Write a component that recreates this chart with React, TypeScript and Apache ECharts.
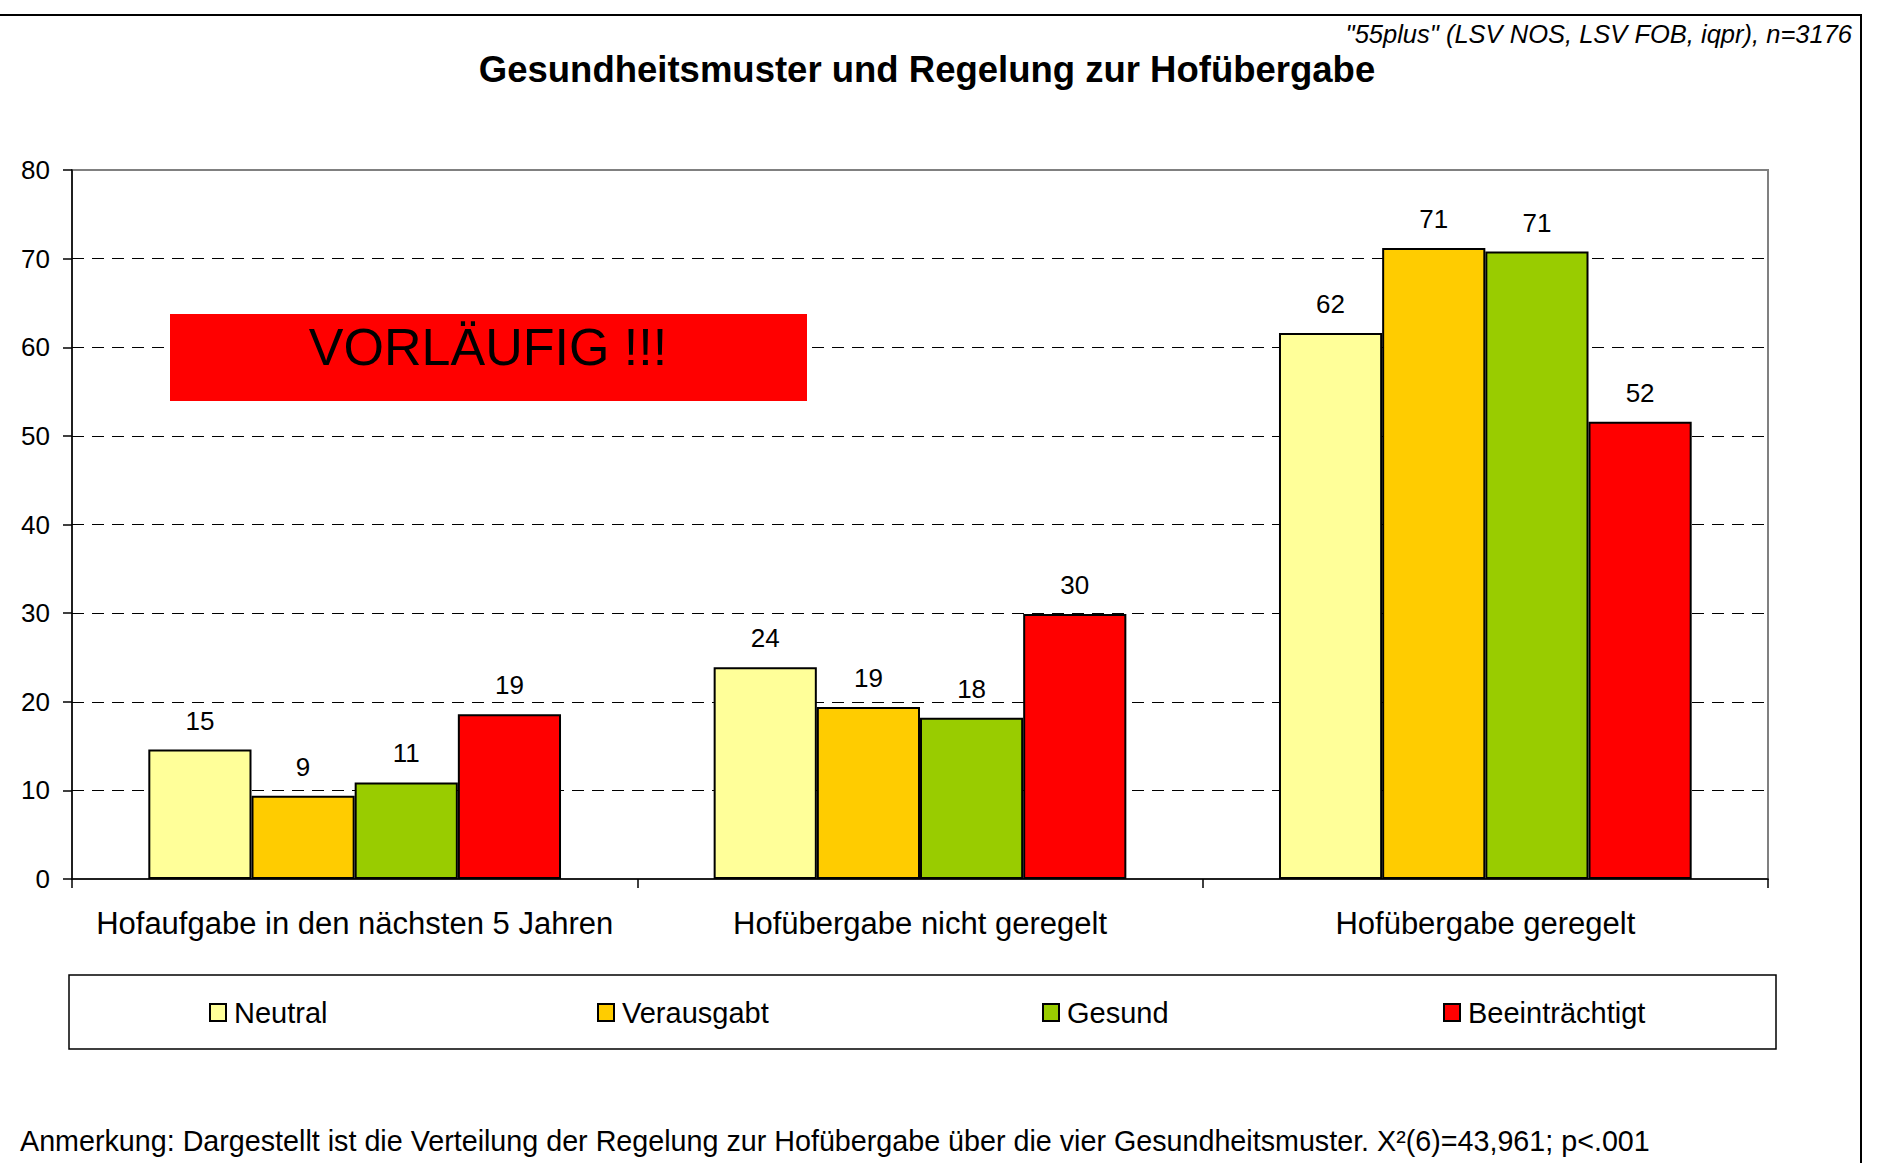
import React, { useEffect, useRef } from "react";
import * as echarts from "echarts";

const categories = [
  "Hofaufgabe in den nächsten 5 Jahren",
  "Hofübergabe nicht geregelt",
  "Hofübergabe geregelt",
];
const seriesNames = ["Neutral", "Verausgabt", "Gesund", "Beeinträchtigt"];
const neutral = [14.6, 23.9, 61.6];
const verausgabt = [9.4, 19.4, 71.2];
const gesund = [10.9, 18.2, 70.8];
const beeintraechtigt = [18.6, 29.9, 51.6];
const seriesColors = ["#FFFF99", "#FFCC00", "#99CC00", "#FF0000"];
const legendLefts = [209, 597, 1042, 1443];

const titleText = "Gesundheitsmuster und Regelung zur Hofübergabe";
const sourceText = '"55plus" (LSV NOS, LSV FOB, iqpr), n=3176';
const noteText =
  "Anmerkung: Dargestellt ist die Verteilung der Regelung zur Hofübergabe über die vier Gesundheitsmuster. X²(6)=43,961; p<.001";
const stampText = "VORLÄUFIG !!!";

const FONT = "'Liberation Sans', Arial, Helvetica, sans-serif";

export default function App() {
  const ref = useRef<HTMLDivElement>(null);
  useEffect(() => {
    if (!ref.current) return;
    const chart = echarts.init(ref.current, undefined, { renderer: "svg" });
    const values = [neutral, verausgabt, gesund, beeintraechtigt];
    const option: any = {
      animation: false,
      backgroundColor: "#ffffff",
      textStyle: { fontFamily: FONT },
      grid: {
        left: 72,
        top: 170,
        width: 1696,
        height: 709,
        show: true,
        borderColor: "#808080",
        borderWidth: 2,
        backgroundColor: "transparent",
      },
      xAxis: {
        type: "category",
        data: categories,
        axisLine: { lineStyle: { color: "#000", width: 1.5 } },
        axisTick: { show: true, length: 9, lineStyle: { color: "#000", width: 1.5 } },
        axisLabel: { color: "#000", fontSize: 31, margin: 29, fontFamily: FONT, interval: 0 },
      },
      yAxis: {
        type: "value",
        min: 0,
        max: 80,
        interval: 10,
        axisLine: { show: true, lineStyle: { color: "#000", width: 1.5 } },
        axisTick: { show: true, length: 9, lineStyle: { color: "#000", width: 1.5 } },
        axisLabel: { color: "#000", fontSize: 26, margin: 22, fontFamily: FONT },
        splitLine: {
          show: true,
          showMinLine: false,
          showMaxLine: false,
          lineStyle: { color: "#000", width: 1, type: [12, 8] },
        },
      },
      legend: seriesNames.map((n, i) => ({
        data: [n],
        left: legendLefts[i],
        top: 998,
        padding: 0,
        itemWidth: 16,
        itemHeight: 17,
        itemGap: 0,
        textStyle: { fontSize: 29, color: "#000", fontFamily: FONT, padding: [0, 0, 0, 3] },
        icon: "rect",
      })),
      series: seriesNames.map((n, i) => ({
        name: n,
        type: "bar",
        data: values[i],
        barGap: "0%",
        barCategoryGap: "27%",
        itemStyle: { color: seriesColors[i], borderColor: "#000", borderWidth: 2 },
        label: {
          show: true,
          position: "top",
          distance: 16,
          color: "#000",
          fontSize: 26,
          fontFamily: FONT,
          formatter: (p: any) => String(Math.round(p.value)),
        },
      })),
      graphic: [
        {
          type: "polyline",
          shape: { points: [[0, 15], [1861, 15], [1861, 1163]] },
          style: { stroke: "#000", lineWidth: 2, fill: "none" },
          silent: true,
        },
        {
          type: "text",
          x: 1852,
          y: 34,
          style: {
            text: sourceText,
            textAlign: "right",
            textVerticalAlign: "middle",
            font: `italic 25.5px ${FONT}`,
            fill: "#000",
          },
        },
        {
          type: "text",
          x: 927,
          y: 69,
          style: {
            text: titleText,
            textAlign: "center",
            textVerticalAlign: "middle",
            font: `bold 36.5px ${FONT}`,
            fill: "#000",
          },
        },
        {
          type: "rect",
          shape: { x: 170, y: 314, width: 637, height: 87 },
          style: { fill: "#FF0000" },
          z: 10,
        },
        {
          type: "text",
          x: 488,
          y: 347,
          z: 11,
          style: {
            text: stampText,
            textAlign: "center",
            textVerticalAlign: "middle",
            font: `52px ${FONT}`,
            fill: "#000",
          },
        },
        {
          type: "rect",
          shape: { x: 69, y: 975, width: 1707, height: 74 },
          style: { fill: "none", stroke: "#000", lineWidth: 1.5 },
          silent: true,
        },
        {
          type: "text",
          x: 20,
          y: 1141,
          style: {
            text: noteText,
            textAlign: "left",
            textVerticalAlign: "middle",
            font: `28.7px ${FONT}`,
            fill: "#000",
          },
        },
      ],
    };
    chart.setOption(option);
    return () => chart.dispose();
  }, []);
  return (
    <div
      ref={ref}
      style={{ position: "fixed", left: 0, top: 0, width: 1888, height: 1163, background: "#fff" }}
    />
  );
}
